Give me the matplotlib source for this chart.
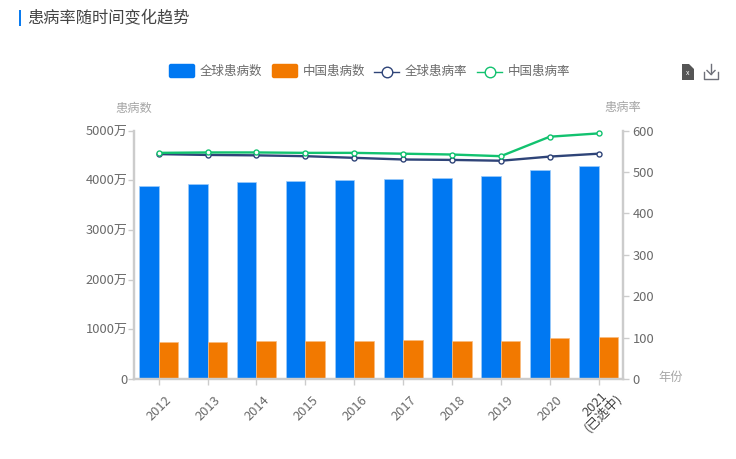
import numpy as np
import matplotlib
matplotlib.use('Agg')
import matplotlib.pyplot as plt
from matplotlib.patches import FancyBboxPatch, Rectangle, Polygon
from matplotlib.lines import Line2D
from matplotlib.transforms import ScaledTranslation

plt.rcParams['font.family'] = ['Noto Sans CJK SC', 'DejaVu Sans']

years = ['2012', '2013', '2014', '2015', '2016', '2017', '2018', '2019', '2020', '2021\n(已选中)']
global_cases = [3889, 3923, 3954, 3984, 4004, 4022, 4050, 4078, 4199, 4292]
china_cases = [750, 750, 762, 765, 770, 775, 770, 765, 835, 845]
global_rate = [543, 541, 540, 538, 534, 530, 529, 527, 537, 544]
china_rate = [546, 547, 547, 546, 546, 544, 542, 538, 585, 593]
left_ticks = [0, 1000, 2000, 3000, 4000, 5000]
left_labels = ['0', '1000万', '2000万', '3000万', '4000万', '5000万']
right_ticks = [0, 100, 200, 300, 400, 500, 600]

W, H = 736, 459
BLUE = '#0078F2'
ORANGE = '#F27900'
NAVY = '#2F4478'
GREEN = '#12C26F'
TXT = '#6A6A6A'
GREY = '#A6A6A6'
AXIS = '#CCCCCC'


def fx(px):
    return px / W


def fy(py):
    return 1 - py / H


fig = plt.figure(figsize=(W / 100, H / 100), dpi=100)
ax = fig.add_axes([fx(134.3), fy(379), (623 - 134.3) / W, (379 - 130.5) / H])
ax2 = ax.twinx()

x = np.arange(len(years))
bw = 0.4
ax.bar(x - bw / 2, global_cases, bw, color=BLUE, edgecolor='#9CCBFA', linewidth=0.5, zorder=2)
ax.bar(x + bw / 2, china_cases, bw, color=ORANGE, edgecolor='#F9BC80', linewidth=0.5, zorder=2)
ax.set_xlim(-0.5, len(years) - 0.5)
ax.set_ylim(0, 5000)
ax.set_yticks(left_ticks)
ax.set_yticklabels(left_labels)
ax.set_xticks(x)
ax.set_xticklabels(years, rotation=45, ha='right', va='top', rotation_mode='anchor',
                   linespacing=0.8, multialignment='center')

ax2.set_ylim(0, 600)
ax2.set_yticks(right_ticks)
for s, k in [(global_rate, NAVY), (china_rate, GREEN)]:
    ax2.plot(x, s, color=k, lw=1.7, marker='o', ms=3.6, mfc='white', mec=k, mew=1,
             zorder=5, clip_on=False)

for a in (ax, ax2):
    a.spines['top'].set_visible(False)
    for side in ('left', 'right', 'bottom'):
        a.spines[side].set_color(AXIS)
        a.spines[side].set_linewidth(1.6)
    a.tick_params(axis='both', colors=AXIS, labelcolor=TXT, labelsize=9.3, length=4, width=1, pad=2)
ax.tick_params(axis='y', pad=1)
ax.tick_params(axis='x', pad=7)
ax2.tick_params(axis='y', pad=3)
ax2.patch.set_visible(False)

# rotated labels sit a little right of the tick
for i, lab in enumerate(ax.get_xticklabels()):
    dx, dy = (6.5, 1) if i < len(years) - 1 else (9, 11)
    lab.set_transform(lab.get_transform() + ScaledTranslation(dx / 100, dy / 100, fig.dpi_scale_trans))
ax.get_xticklabels()[-1].set_color('#444444')

# axis names
fig.text(fx(134), fy(108), '患病数', color=GREY, fontsize=8.8, ha='center', va='center')
fig.text(fx(623), fy(108), '患病率', color=GREY, fontsize=8.8, ha='center', va='center')
fig.text(fx(671), fy(378), '年份', color=GREY, fontsize=8.8, ha='center', va='center')

# title
fig.add_artist(Rectangle((fx(19), fy(25.5)), 2 / W, 15.5 / H, color='#0A7BEF', lw=0, transform=fig.transFigure))
fig.text(fx(27), fy(19), '患病率随时间变化趋势', color='#444444', fontsize=11.7, ha='left', va='center')

# legend, drawn by hand at the reference's pixel positions
for x0, k, name in [(169, BLUE, '全球患病数'), (272, ORANGE, '中国患病数')]:
    fig.add_artist(FancyBboxPatch((fx(x0 + 2), fy(78) + 2 / H), 22 / W, 10 / H,
                                  boxstyle='round,pad=0.003', mutation_aspect=W / H,
                                  fc=k, ec='none', transform=fig.transFigure))
    fig.text(fx(x0 + 30.5), fy(71), name, color=TXT, fontsize=9, ha='left', va='center')
for x0, k, name in [(374, NAVY, '全球患病率'), (477, GREEN, '中国患病率')]:
    fig.add_artist(Line2D([fx(x0), fx(x0 + 25)], [fy(71.5), fy(71.5)], color=k, lw=1,
                          transform=fig.transFigure))
    fig.add_artist(Line2D([fx(x0 + 12.5)], [fy(71.5)], marker='o', ms=7.6, mfc='white', mec=k, mew=1,
                          transform=fig.transFigure))
    fig.text(fx(x0 + 30.5), fy(71), name, color=TXT, fontsize=9, ha='left', va='center')

# toolbox icons
fig.add_artist(Polygon([(fx(682), fy(64)), (fx(689), fy(64)), (fx(694), fy(69)), (fx(694), fy(80)), (fx(682), fy(80))],
                       closed=True, fc='#555555', ec='none', transform=fig.transFigure))
fig.text(fx(688), fy(73), 'x', color='white', fontsize=5, ha='center', va='center', style='italic')
for xs, ys in [([704, 704, 718, 718], [72, 79, 79, 72]),
               ([711, 711], [64, 74]),
               ([707, 711, 715], [70.5, 74.5, 70.5])]:
    fig.add_artist(Line2D([fx(v) for v in xs], [fy(v) for v in ys], color='#6E7079', lw=1,
                          transform=fig.transFigure))

fig.savefig('out.png', dpi=100)
